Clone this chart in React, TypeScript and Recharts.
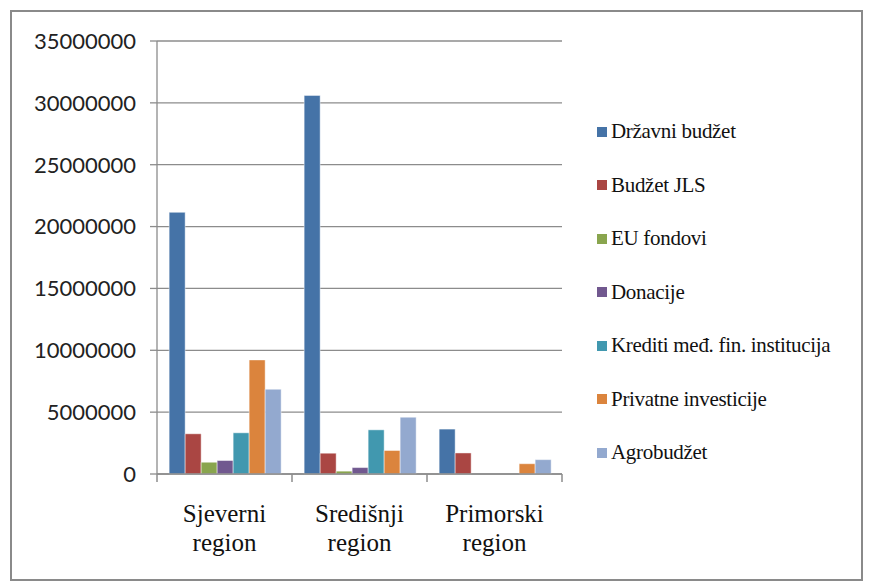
import React from "react";
import { BarChart, Bar, XAxis, YAxis, CartesianGrid, Legend } from "recharts";

const regions = ["Sjeverni region", "Središnji region", "Primorski region"];

const drzavniBudzet = [21150000, 30600000, 3630000];
const budzetJLS = [3250000, 1680000, 1700000];
const euFondovi = [950000, 230000, 0];
const donacije = [1090000, 520000, 0];
const krediti = [3330000, 3570000, 0];
const privatne = [9220000, 1900000, 830000];
const agrobudzet = [6850000, 4590000, 1160000];

const yTicks = [0, 5000000, 10000000, 15000000, 20000000, 25000000, 30000000, 35000000];

const serif = "'Liberation Serif', 'Times New Roman', 'DejaVu Serif', serif";

const series = [
    { key: "drzavni", name: "Državni budžet", color: "#4573A7", values: drzavniBudzet },
    { key: "jls", name: "Budžet JLS", color: "#AA4643", values: budzetJLS },
    { key: "eu", name: "EU fondovi", color: "#89A54E", values: euFondovi },
    { key: "donacije", name: "Donacije", color: "#71588F", values: donacije },
    { key: "krediti", name: "Krediti međ. fin. institucija", color: "#4198AF", values: krediti },
    { key: "privatne", name: "Privatne investicije", color: "#DB843D", values: privatne },
    { key: "agro", name: "Agrobudžet", color: "#93A9CF", values: agrobudzet },
];

const data = regions.map((region, i) => {
    const row: any = { region };
    series.forEach((s) => (row[s.key] = s.values[i]));
    return row;
});

const RegionTick = ({ x, y, payload, index }: any) => {
    const half = payload?.offset || 67.5;
    const [first, ...rest] = String(payload.value).split(" ");
    return (
        <g>
            <line x1={x - half} x2={x - half} y1={y - 8} y2={y} stroke="#8c8c8c" strokeWidth={1.5} />
            {index === regions.length - 1 && (
                <line x1={x + half} x2={x + half} y1={y - 8} y2={y} stroke="#8c8c8c" strokeWidth={1.5} />
            )}
            <text x={x} y={y} textAnchor="middle" fill="#111" style={{ fontFamily: serif }} fontSize={25}>
                <tspan x={x} dy={40}>{first}</tspan>
                <tspan x={x} dy={29}>{rest.join(" ")}</tspan>
            </text>
        </g>
    );
};

const SideLegend = () => (
    <div style={{ fontFamily: serif, fontSize: 21, color: "#111" }}>
        {series.map((s) => (
            <div key={s.key} style={{ height: 53.5, display: "flex", alignItems: "center" }}>
                <span style={{ width: 10, height: 10, background: s.color, marginRight: 4, flexShrink: 0 }} />
                <span style={{ whiteSpace: "nowrap", letterSpacing: -0.3 }}>{s.name}</span>
            </div>
        ))}
    </div>
);

export default function App() {
    return (
        <div style={{ position: "absolute", left: 0, top: 0, width: 869, height: 583, background: "#fff" }}>
            <div
                style={{
                    position: "absolute",
                    left: 10,
                    top: 10,
                    width: 849,
                    height: 567,
                    border: "2px solid #8a8a8a",
                }}
            />
            <div style={{ position: "absolute", left: 0, top: 0 }}>
                <BarChart
                    width={869}
                    height={583}
                    data={data}
                    margin={{ top: 41, right: 27, bottom: 0, left: 7 }}
                    barCategoryGap="9%"
                    barGap={0}
                >
                    <CartesianGrid vertical={false} stroke="#8c8c8c" strokeWidth={1.3} />
                    <XAxis
                        dataKey="region"
                        axisLine={{ stroke: "#8c8c8c", strokeWidth: 1.5 }}
                        tickLine={false}
                        tickSize={8}
                        tickMargin={0}
                        interval={0}
                        tick={<RegionTick />}
                        height={109}
                    />
                    <YAxis
                        domain={[0, 35000000]}
                        ticks={yTicks}
                        width={150}
                        tickSize={7}
                        tickMargin={14}
                        axisLine={{ stroke: "#8c8c8c", strokeWidth: 1.3 }}
                        tickLine={{ stroke: "#8c8c8c", strokeWidth: 1.3 }}
                        tick={{ fill: "#222", fontSize: 22, fontFamily: "Lato, sans-serif" }}
                    />
                    <Legend
                        layout="vertical"
                        align="right"
                        verticalAlign="middle"
                        width={280}
                        wrapperStyle={{ left: 597, top: 105, right: "auto" }}
                        content={<SideLegend />}
                    />
                    {series.map((s) => (
                        <Bar
                            key={s.key}
                            dataKey={s.key}
                            name={s.name}
                            fill={s.color}
                            stroke="#ffffff"
                            strokeOpacity={0.45}
                            strokeWidth={1}
                            isAnimationActive={false}
                        />
                    ))}
                </BarChart>
            </div>
        </div>
    );
}
